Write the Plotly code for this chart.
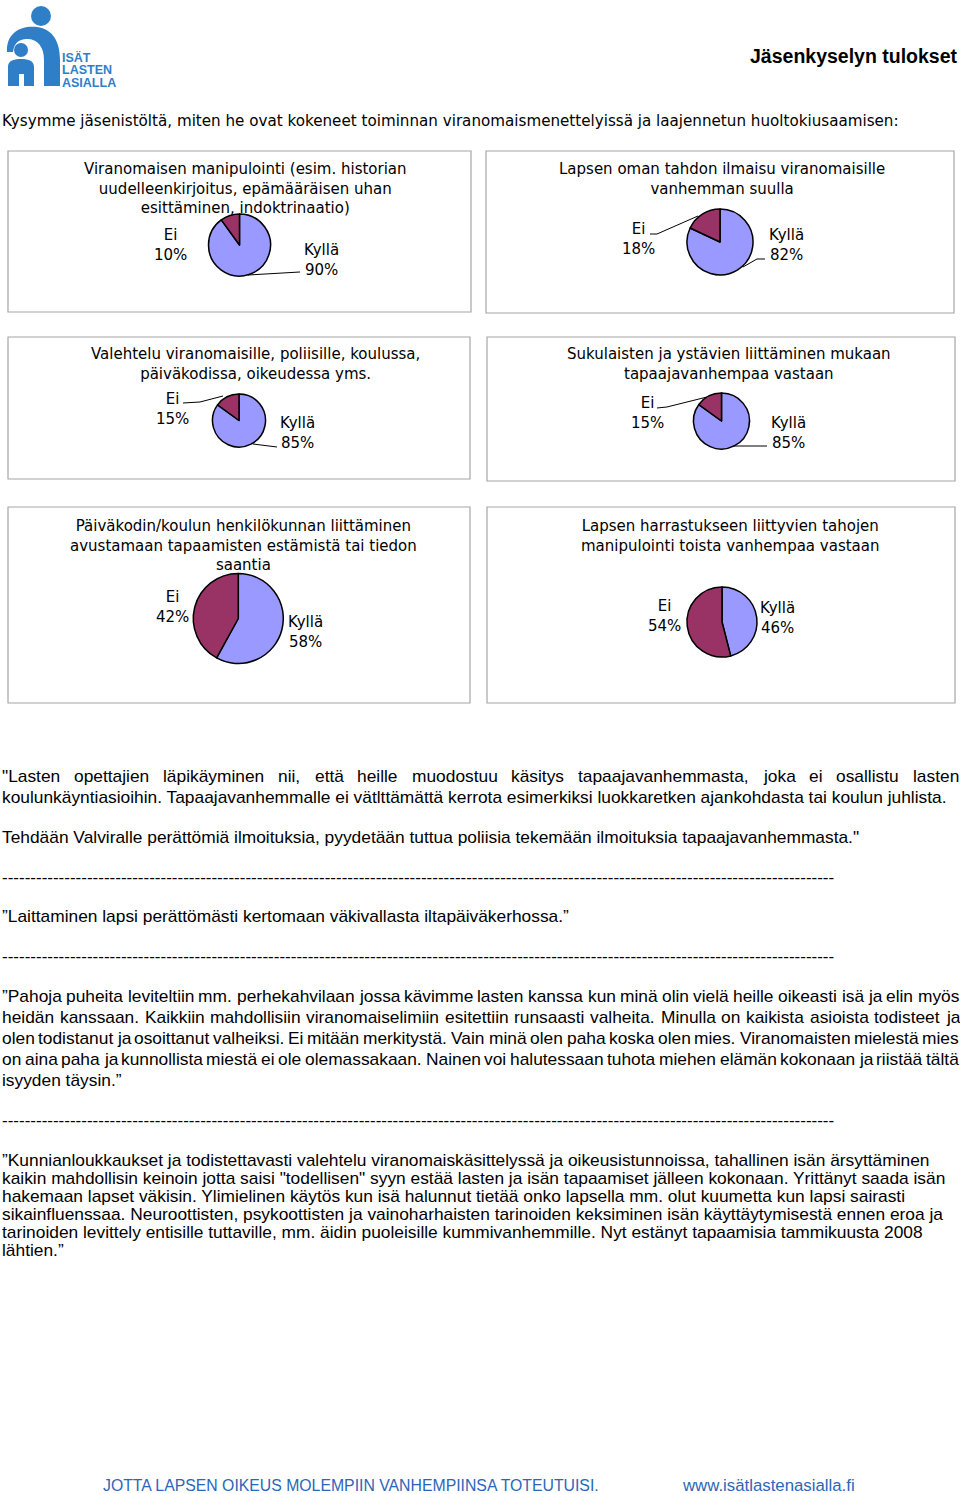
import plotly.graph_objects as go

W, H = 960, 1494

# ---------------- data ----------------
categories = ["Kyllä", "Ei"]
kylla = [90, 82, 85, 85, 58, 46]
ei = [10, 18, 15, 15, 42, 54]
titles = [
    ["Viranomaisen manipulointi (esim. historian", "uudelleenkirjoitus, epämääräisen uhan", "esittäminen, indoktrinaatio)"],
    ["Lapsen oman tahdon ilmaisu viranomaisille", "vanhemman suulla"],
    ["Valehtelu viranomaisille, poliisille, koulussa,", "päiväkodissa, oikeudessa yms."],
    ["Sukulaisten ja ystävien liittäminen mukaan", "tapaajavanhempaa vastaan"],
    ["Päiväkodin/koulun henkilökunnan liittäminen", "avustamaan tapaamisten estämistä tai tiedon", "saantia"],
    ["Lapsen harrastukseen liittyvien tahojen", "manipulointi toista vanhempaa vastaan"],
]
header_text = "Jäsenkyselyn tulokset"
intro_text = "Kysymme jäsenistöltä, miten he ovat kokeneet toiminnan viranomaismenettelyissä ja laajennetun huoltokiusaamisen:"
logo_lines = ["ISÄT", "LASTEN", "ASIALLA"]
footer_left = "JOTTA LAPSEN OIKEUS MOLEMPIIN VANHEMPIINSA TOTEUTUISI."
footer_right = "www.isätlastenasialla.fi"

# (text, justified?) per line, grouped in blocks
para1 = [("\"Lasten opettajien läpikäyminen nii, että heille muodostuu käsitys tapaajavanhemmasta, joka ei osallistu lasten", True),
         ("koulunkäyntiasioihin. Tapaajavanhemmalle ei vätlttämättä kerrota esimerkiksi luokkaretken ajankohdasta tai koulun juhlista.", False)]
para2 = [("Tehdään Valviralle perättömiä ilmoituksia, pyydetään tuttua poliisia tekemään ilmoituksia tapaajavanhemmasta.\"", False)]
para3 = [("”Laittaminen lapsi perättömästi kertomaan väkivallasta iltapäiväkerhossa.”", False)]
para4 = [("”Pahoja puheita leviteltiin mm. perhekahvilaan jossa kävimme lasten kanssa kun minä olin vielä heille oikeasti isä ja elin myös", True),
         ("heidän kanssaan. Kaikkiin mahdollisiin viranomaiselimiin esitettiin runsaasti valheita. Minulla on kaikista asioista todisteet ja", True),
         ("olen todistanut ja osoittanut valheiksi. Ei mitään merkitystä. Vain minä olen paha koska olen mies. Viranomaisten mielestä mies", True),
         ("on aina paha ja kunnollista miestä ei ole olemassakaan. Nainen voi halutessaan tuhota miehen elämän kokonaan ja riistää tältä", True),
         ("isyyden täysin.”", False)]
para5 = [("”Kunnianloukkaukset ja todistettavasti valehtelu viranomaiskäsittelyssä ja oikeusistunnoissa, tahallinen isän ärsyttäminen", False),
         ("kaikin mahdollisin keinoin jotta saisi \"todellisen\" syyn estää lasten ja isän tapaamiset jälleen kokonaan. Yrittänyt saada isän", False),
         ("hakemaan lapset väkisin. Ylimielinen käytös kun isä halunnut tietää onko lapsella mm. olut kuumetta kun lapsi sairasti", False),
         ("sikainfluenssaa. Neuroottisten, psykoottisten ja vainoharhaisten tarinoiden keksiminen isän käyttäytymisestä ennen eroa ja", False),
         ("tarinoiden levittely entisille tuttaville, mm. äidin puoleisille kummivanhemmille. Nyt estänyt tapaamisia tammikuusta 2008", False),
         ("lähtien.”", False)]
dash_line = "-" * 147

# ---------------- layout geometry (pixels) ----------------
pie_geom = [(239.5, 245, 31), (720, 242, 33), (239, 420.5, 26.5),
            (721.5, 421, 28), (238.3, 618.5, 45), (722, 622, 35)]
title_pos = [(246, 188), (722, 179), (255, 364), (729, 364), (243, 545), (730, 536)]
label_pos = [((170, 245), (321, 260)), ((638, 239), (786, 245)), ((172, 408.5), (297, 433)),
             ((647, 413), (788, 433)), ((172, 607.5), (305, 632.5)), ((664, 615.5), (777, 617.5))]
boxes = [(8, 151, 471, 312), (486, 151, 954, 313), (8, 337, 470, 479),
         (487, 337, 955, 481), (8, 507, 470, 703), (487, 507, 955, 703)]
leaders = [
    [[(248, 275), (300, 272)]],
    [[(650, 234), (657, 234), (698, 216)], [(743, 267), (757, 259), (765, 259)]],
    [[(183, 403), (200, 402), (223, 396)], [(253, 444), (277, 447)]],
    [[(657, 408), (667, 407), (707, 397)], [(733, 446), (767, 446)]],
    [],
    [],
]

BODY_FONT = "Liberation Sans"
BODY_SIZE = 17.35
PIE_FONT = "DejaVu Sans"

# Arial / Liberation Sans advance widths (1/1000 em)
AW = {' ': 278, '!': 278, '"': 355, '%': 889, "'": 191, '(': 333, ')': 333, ',': 278, '-': 333,
      '.': 278, '/': 278, ':': 278, ';': 278, '?': 556, '”': 333, '“': 333}
for d in "0123456789":
    AW[d] = 556
AW.update(dict(A=667, B=667, C=722, D=722, E=667, F=611, G=778, H=722, I=278, J=500, K=667, L=556,
               M=833, N=722, O=778, P=667, Q=778, R=722, S=667, T=611, U=722, V=667, W=944, X=667,
               Y=667, Z=611))
AW.update(dict(a=556, b=556, c=500, d=556, e=556, f=278, g=556, h=556, i=222, j=222, k=500, l=222,
               m=833, n=556, o=556, p=556, q=556, r=333, s=500, t=278, u=556, v=500, w=722, x=500,
               y=500, z=500))
AW.update({'ä': 556, 'ö': 556, 'å': 556, 'Ä': 667, 'Ö': 778})


def tw(s, size):
    return sum(AW.get(ch, 556) for ch in s) * size / 1000.0


def X(px):
    return px / W


def Y(py):
    return 1 - py / H


annotations = []
shapes = []


def ann(x, y, text, size, family, xanchor="left", color="black", bold=False, align="left"):
    if bold:
        text = "<b>" + text + "</b>"
    annotations.append(dict(x=X(x), y=Y(y), xref="paper", yref="paper", text=text, showarrow=False,
                            xanchor=xanchor, yanchor="middle", align=align, borderpad=0, borderwidth=0,
                            font=dict(family=family, size=size, color=color)))


def body_line(text, y, justify, x0=2, x1=959):
    if not justify:
        ann(x0, y, text, BODY_SIZE, BODY_FONT)
        return
    words = text.split(" ")
    widths = [tw(w, BODY_SIZE) for w in words]
    gap = (x1 - x0 - sum(widths)) / (len(words) - 1)
    x = x0
    for w, wd in zip(words, widths):
        ann(x, y, w, BODY_SIZE, BODY_FONT)
        x += wd + gap


def pix_path(points):
    return "M " + " L ".join(f"{X(x):.5f},{Y(y):.5f}" for x, y in points)


# ---------------- figure ----------------
fig = go.Figure()

for i in range(6):
    cx, cy, r = pie_geom[i]
    fig.add_trace(go.Pie(
        labels=categories, values=[kylla[i], ei[i]], sort=False, direction="clockwise", rotation=0,
        marker=dict(colors=["#9999FF", "#993366"], line=dict(color="black", width=1.5)),
        textinfo="none", hoverinfo="label+percent", showlegend=False,
        domain=dict(x=[X(cx - r), X(cx + r)], y=[Y(cy + r), Y(cy - r)]),
    ))
    bx0, by0, bx1, by1 = boxes[i]
    shapes.append(dict(type="rect", xref="paper", yref="paper", x0=X(bx0), x1=X(bx1), y0=Y(by1), y1=Y(by0),
                       line=dict(color="#a6a6a6", width=1.2), fillcolor="rgba(0,0,0,0)", layer="below"))
    tx, ty = title_pos[i]
    ann(tx, ty, "<br>".join(titles[i]), 15, PIE_FONT, xanchor="center", align="center")
    (kx, ky), (ex, ey) = label_pos[i][1], label_pos[i][0]
    ann(ex, ey, f"{categories[1]}<br>{ei[i]}%", 15, PIE_FONT, xanchor="center", align="center")
    ann(kx, ky, f"{categories[0]}<br>{kylla[i]}%", 15, PIE_FONT, xanchor="center", align="center")
    for pts in leaders[i]:
        shapes.append(dict(type="path", xref="paper", yref="paper", path=pix_path(pts),
                           line=dict(color="black", width=1)))

# header & intro
ann(958, 56, header_text, 19.5, BODY_FONT, xanchor="right", bold=True)
ann(2, 121, intro_text, 15.15, PIE_FONT)

# body text
for (t, j), y in zip(para1, [776, 797]):
    body_line(t, y, j)
body_line(para2[0][0], 837, False)
ann(2, 877, dash_line, 17, BODY_FONT)
body_line(para3[0][0], 916, False)
ann(2, 956, dash_line, 17, BODY_FONT)
for (t, j), y in zip(para4, [996, 1017, 1038, 1059, 1080]):
    body_line(t, y, j)
ann(2, 1120, dash_line, 17, BODY_FONT)
for (t, j), y in zip(para5, [1160, 1178, 1196, 1214, 1232, 1250]):
    body_line(t, y, j)

# footer
FOOT_BLUE = "#2b66b8"
ann(103, 1485, footer_left, 15.8, BODY_FONT, color=FOOT_BLUE)
ann(682, 1485, footer_right, 16.8, BODY_FONT, color=FOOT_BLUE)

# logo
LOGO_BLUE = "#2f7fc8"
for t, y in zip(logo_lines, [57.5, 70, 82.5]):
    ann(62, y, t, 12.5, BODY_FONT, color=LOGO_BLUE, bold=True)


def curve_path(cmds):
    out = []
    for c in cmds:
        op, nums = c[0], c[1:]
        if op == "Z":
            out.append("Z")
            continue
        pts = [f"{X(nums[k]):.5f},{Y(nums[k + 1]):.5f}" for k in range(0, len(nums), 2)]
        out.append(op + " " + " ".join(pts))
    return " ".join(out)


adult = [("M", 7, 52), ("C", 6, 32, 22, 25, 37, 27), ("C", 53, 29, 60, 42, 60, 60), ("L", 60, 86),
         ("L", 44, 86), ("L", 44, 60), ("C", 44, 47, 38, 39, 27, 39), ("C", 18, 39, 14, 44, 13, 52), ("Z",)]
child = [("M", 8, 86), ("L", 8, 67), ("C", 8, 61, 13, 59, 21, 59), ("C", 29, 59, 34, 61, 34, 67),
         ("L", 34, 86), ("L", 24, 86), ("L", 24, 74), ("L", 19, 74), ("L", 19, 86), ("Z",)]
for p in (adult, child):
    shapes.append(dict(type="path", xref="paper", yref="paper", path=curve_path(p),
                       fillcolor=LOGO_BLUE, line=dict(width=0)))
for (cx, cy, r) in [(41, 16, 10), (21, 50, 7)]:
    shapes.append(dict(type="circle", xref="paper", yref="paper", x0=X(cx - r), x1=X(cx + r),
                       y0=Y(cy + r), y1=Y(cy - r), fillcolor=LOGO_BLUE, line=dict(width=0)))

fig.update_layout(
    width=W, height=H, margin=dict(l=0, r=0, t=0, b=0),
    paper_bgcolor="white", plot_bgcolor="white",
    annotations=annotations, shapes=shapes, showlegend=False,
)

fig.write_html("out.html")
